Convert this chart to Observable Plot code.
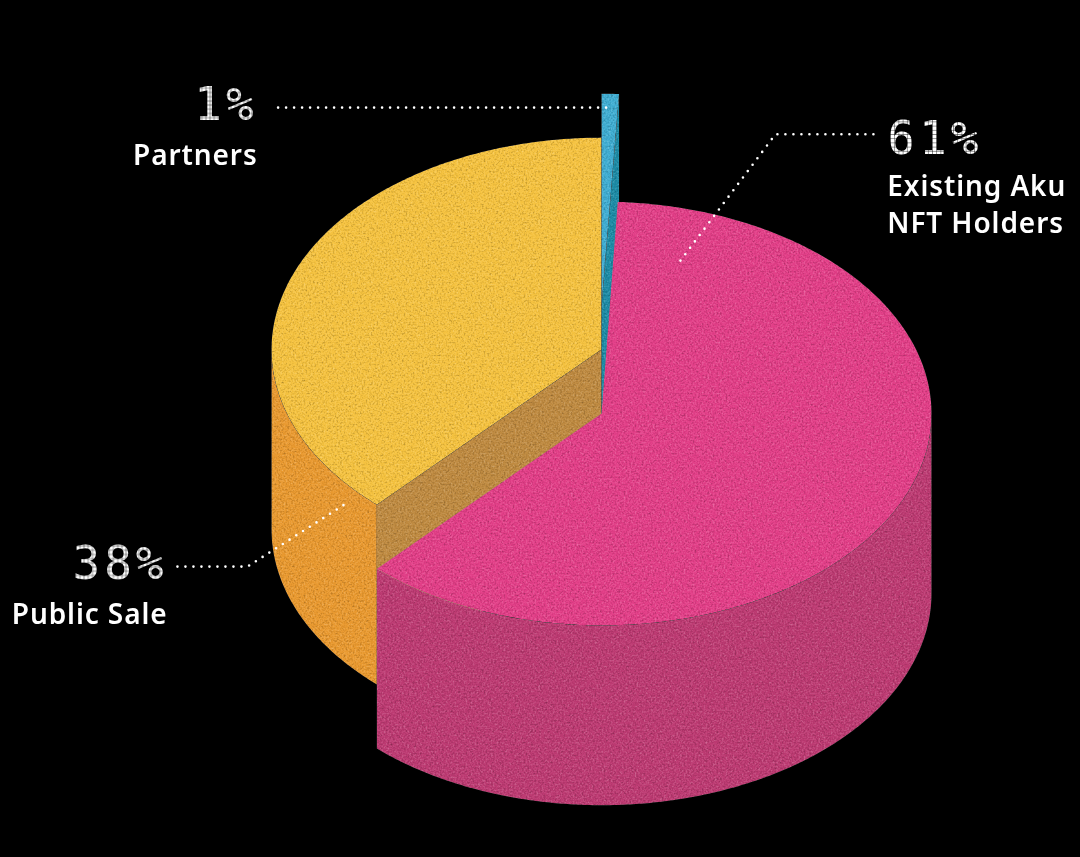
<!DOCTYPE html>
<html>
<head>
<meta charset="utf-8">
<style>
html,body{margin:0;padding:0;background:#000;}
svg{display:block;}
</style>
<script src="https://cdn.jsdelivr.net/npm/d3@7"></script>
<script src="https://cdn.jsdelivr.net/npm/@observablehq/plot@0.6"></script>
</head>
<body>
<div id="chart"></div>
<script>
// Slices (angles clockwise from the back of the pie)
const sliceNames  = ["Public Sale", "Partners", "Existing Aku NFT Holders"];
const sliceShares = [38, 1, 61];
const sliceStart  = [222.9, 0, 2.8];
const sliceEnd    = [360, 3.05, 222.9];

// Labels
const percentTexts = ["1%", "61%", "38%"];
const nameTexts = ["Partners", "Existing Aku", "NFT Holders", "Public Sale"];

// Drawing geometry, in units of the pie radius
const tilt = 0.642, depth = 0.545;
const lift = [-0.194, -0.327, 0];
const topColor  = ["#f5c23f", "#3fadd2", "#e23e87"];
const wallColor = ["#e9992f", "#1c8ba6", "#bd3a72"];
const innerColor = "#bf8a40";

const rad = d => d * Math.PI / 180;
const pt = (deg, l) => ({x: Math.sin(rad(deg)), y: -Math.cos(rad(deg)) * tilt + l});
const arc = (a, b, l) => [...d3.range(a, b, 0.5), b].map(d => pt(d, l));
const topFace = i => [{x: 0, y: lift[i]}, ...arc(sliceStart[i], sliceEnd[i], lift[i])];
const outerWall = (i, a, b) => [...arc(a, b, lift[i]), ...arc(a, b, lift[i] + depth).reverse()];
const innerWall = (i, deg) => [
  {x: 0, y: lift[i]}, pt(deg, lift[i]), pt(deg, lift[i] + depth), {x: 0, y: lift[i] + depth}
];
const slice = (rows, fill) => Plot.line(rows, {x: "x", y: "y", fill, stroke: "none"});

// Annotation anchors, in the same units
const leaders = [
  [{x: -0.98, y: -0.927}, {x: 0.03, y: -0.927}],
  [{x: 0.824, y: -0.846}, {x: 0.527, y: -0.846}, {x: 0.233, y: -0.455}],
  [{x: -1.285, y: 0.464}, {x: -1.073, y: 0.464}, {x: -0.77, y: 0.27}]
];
const percentLeft  = [{x: 0.866, y: -0.785, t: percentTexts[1]}];
const percentRight = [{x: -1.042, y: -0.89, t: percentTexts[0]}, {x: -1.315, y: 0.501, t: percentTexts[2]}];
const nameLeft  = [{x: 0.866, y: -0.658, t: nameTexts[1]}, {x: 0.866, y: -0.548, t: nameTexts[2]}];
const nameRight = [{x: -1.042, y: -0.754, t: nameTexts[0]}, {x: -1.315, y: 0.639, t: nameTexts[3]}];

const percentMark = (rows, textAnchor) => Plot.text(rows, {
  x: "x", y: "y", text: "t", textAnchor, fill: "#fff", lineAnchor: "bottom",
  fontFamily: "DejaVu Sans Mono", fontSize: 46
});
const nameMark = (rows, textAnchor) => Plot.text(rows, {
  x: "x", y: "y", text: "t", textAnchor, fill: "#fff", lineAnchor: "bottom",
  fontFamily: "Noto Sans", fontWeight: 600, fontSize: 28
});

const plot = Plot.plot({
  width: 1080, height: 857, margin: 0,
  style: {background: "#000", color: "#fff"},
  x: {domain: [-601 / 330, 479 / 330], axis: null},
  y: {domain: [-413 / 330, 444 / 330], reverse: true, axis: null},
  marks: [
    slice(outerWall(0, sliceStart[0], 270), wallColor[0]),
    slice(innerWall(0, sliceStart[0]), innerColor),
    slice(topFace(0), topColor[0]),
    slice(innerWall(1, sliceEnd[1]), wallColor[1]),
    slice(topFace(1), topColor[1]),
    slice(outerWall(2, 90, sliceEnd[2]), wallColor[2]),
    slice(topFace(2), topColor[2]),
    ...leaders.map(rows => Plot.line(rows, {
      x: "x", y: "y", stroke: "#fff", strokeWidth: 2.6, strokeLinecap: "round",
      strokeDasharray: "0 8", curve: "linear"
    })),
    percentMark(percentLeft, "start"),
    percentMark(percentRight, "end"),
    nameMark(nameLeft, "start"),
    nameMark(nameRight, "end")
  ]
});

// Paper grain and dot-matrix finish
const svg = d3.select(plot);
const defs = svg.insert("defs", ":first-child");
const f = defs.append("filter").attr("id", "grain").attr("x", 0).attr("y", 0)
  .attr("width", "100%").attr("height", "100%").attr("color-interpolation-filters", "sRGB");
f.append("feTurbulence").attr("type", "fractalNoise").attr("baseFrequency", 0.55)
  .attr("numOctaves", 2).attr("seed", 4).attr("result", "n");
f.append("feColorMatrix").attr("in", "n").attr("type", "matrix")
  .attr("values", "0.2 0.2 0 0 0.3  0.2 0.2 0 0 0.3  0.2 0.2 0 0 0.3  0 0 0 0 1").attr("result", "g");
f.append("feBlend").attr("in", "SourceGraphic").attr("in2", "g").attr("mode", "overlay").attr("result", "b");
f.append("feComposite").attr("in", "b").attr("in2", "SourceGraphic").attr("operator", "in");
const pat = defs.append("pattern").attr("id", "dots").attr("patternUnits", "userSpaceOnUse")
  .attr("width", 4.2).attr("height", 4.2);
pat.append("rect").attr("width", 3.8).attr("height", 3.8).attr("fill", "#fff");
const m = defs.append("mask").attr("id", "matrix").attr("maskUnits", "userSpaceOnUse")
  .attr("x", 0).attr("y", 0).attr("width", 1080).attr("height", 857);
m.append("rect").attr("width", 1080).attr("height", 857).attr("fill", "url(#dots)");

const lines = svg.selectAll('g[aria-label="line"]').nodes();
lines.slice(0, 7).forEach(n => d3.select(n).style("filter", "url(#grain)"));
const texts = svg.selectAll('g[aria-label="text"]').nodes();
texts.slice(0, 2).forEach(n => d3.select(n).attr("mask", "url(#matrix)").style("letter-spacing", "4px"));
texts.slice(2).forEach(n => d3.select(n).style("letter-spacing", "0.9px"));
svg.style("filter", "blur(0.45px)");

document.getElementById("chart").appendChild(plot);
</script>
</body>
</html>
